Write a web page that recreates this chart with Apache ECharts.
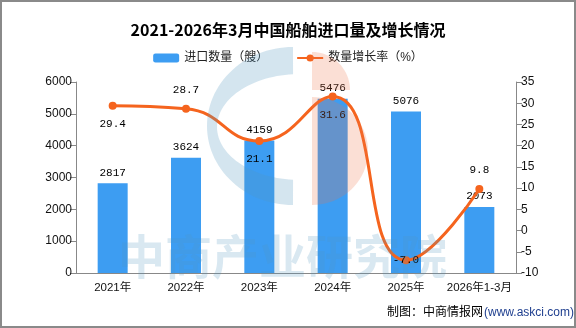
<!DOCTYPE html>
<html>
<head>
<meta charset="utf-8">
<script src="https://cdn.jsdelivr.net/npm/echarts@6/dist/echarts.min.js"></script>
<style>
html,body{margin:0;padding:0;background:#fff;}
#c{width:576px;height:328px;}
</style>
</head>
<body>
<div id="c"></div>
<script>
const titleText = '2021-2026年3月中国船舶进口量及增长情况';
const categories = ['2021年','2022年','2023年','2024年','2025年','2026年1-3月'];
const importCount = [2817, 3624, 4159, 5476, 5076, 2073];
const growthRate = [29.4, 28.7, 21.1, 31.6, -7.0, 9.8];
const countName = '进口数量（艘）';
const rateName = '数量增长率（%）';
const rateLabelPos = ['bottom','top','bottom','bottom','inside','top'];

const CJK = '"Liberation Sans","Noto Sans CJK SC",sans-serif';
const NUM = '"Liberation Mono","Noto Sans CJK SC",monospace';
const wmBlue = 'rgba(83,151,191,0.25)';
const wmPink = 'rgba(237,118,74,0.23)';

function arc(cx, cy, rx, ry, a0, a1, n) {
  const pts = [];
  for (let i = 0; i <= n; i++) {
    const t = (a0 + (a1 - a0) * i / n) * Math.PI / 180;
    pts.push([cx + rx * Math.cos(t), cy + ry * Math.sin(t)]);
  }
  return pts;
}
const logoC = arc(293, 126, 86, 79, 270, 90, 60).concat(arc(300, 127, 83, 53, 94.8, 265.2, 60));
const logoPinkTop = arc(312, 90, 38, 38, -90, 0, 20).concat([[312, 90]]);
const logoPinkBottom = arc(312, 151, 56, 54, -90, 90, 40);

const chart = echarts.init(document.getElementById('c'), null, {renderer:'canvas'});
chart.setOption({
  animation: false,
  backgroundColor: '#fff',
  title: {
    text: titleText, left: 'center', top: 17,
    textStyle: {fontSize: 16, fontWeight: 'bold', color: '#000', fontFamily: '"Noto Sans CJK SC",sans-serif'}
  },
  legend: {
    top: 47, left: 'center', itemWidth: 26, itemHeight: 9, itemGap: 28,
    textStyle: {fontSize: 12, color: '#222', fontFamily: CJK},
    data: [countName, rateName]
  },
  grid: {left: 76, right: 60, top: 82, bottom: 55},
  xAxis: {
    type: 'category', data: categories,
    axisLine: {lineStyle: {color: '#888'}},
    axisTick: {length: 5, lineStyle: {color: '#888'}},
    axisLabel: {color: '#111', fontSize: 11.5, margin: 9, interval: 0, fontFamily: CJK}
  },
  yAxis: [
    {type: 'value', min: 0, max: 6000, interval: 1000,
     axisLine: {show: true, lineStyle: {color: '#888'}},
     axisTick: {show: true, length: 6, lineStyle: {color: '#888'}},
     splitLine: {show: false},
     axisLabel: {color: '#111', fontSize: 12, margin: 4, fontFamily: CJK, formatter: v => String(v)}},
    {type: 'value', min: -10, max: 35, interval: 5,
     axisLine: {show: true, lineStyle: {color: '#888'}},
     axisTick: {show: true, length: 6, lineStyle: {color: '#888'}},
     splitLine: {show: false},
     axisLabel: {color: '#111', fontSize: 12, margin: 5, fontFamily: CJK, formatter: v => String(v)}}
  ],
  series: [
    {name: countName, type: 'bar', data: importCount, barWidth: 30,
     itemStyle: {color: '#3d9df2'},
     label: {show: true, position: 'top', distance: 5, color: '#000', fontSize: 11, fontFamily: NUM}},
    {name: rateName, type: 'line', yAxisIndex: 1, smooth: 0.5,
     data: growthRate.map((v, i) => ({value: v, label: {position: rateLabelPos[i]}})),
     symbol: 'circle', symbolSize: 8,
     lineStyle: {color: '#f5641e', width: 3},
     itemStyle: {color: '#f5641e'},
     label: {show: true, distance: 9, color: '#000', fontSize: 11, fontFamily: NUM,
             formatter: p => p.value.toFixed(1)}}
  ],
  graphic: [
    {type: 'polygon', z: 100, silent: true, shape: {points: logoC}, style: {fill: wmBlue}},
    {type: 'polygon', z: 100, silent: true, shape: {points: logoPinkTop}, style: {fill: wmPink}},
    {type: 'polygon', z: 100, silent: true, shape: {points: logoPinkBottom}, style: {fill: wmPink}},
    {type: 'text', z: 100, silent: true, left: 118, top: 233,
     style: {text: '中商产业研究院', fill: 'rgba(83,151,191,0.22)', font: 'bold 47px "Noto Sans CJK SC",sans-serif'}},
    {type: 'text', left: 387, top: 305, z: 101,
     style: {text: '制图：中商情报网', fill: '#000', font: '12px "Noto Sans CJK SC",sans-serif'}},
    {type: 'text', left: 484, top: 307, z: 101,
     style: {text: '(www.askci.com)', fill: '#1f3f8f', font: '12px "Liberation Sans",sans-serif'}},
    {type: 'rect', z: 102, silent: true,
     shape: {x: 1, y: 1, width: 574, height: 326},
     style: {fill: 'none', stroke: '#8a8a8a', lineWidth: 2}}
  ]
});
</script>
</body>
</html>
